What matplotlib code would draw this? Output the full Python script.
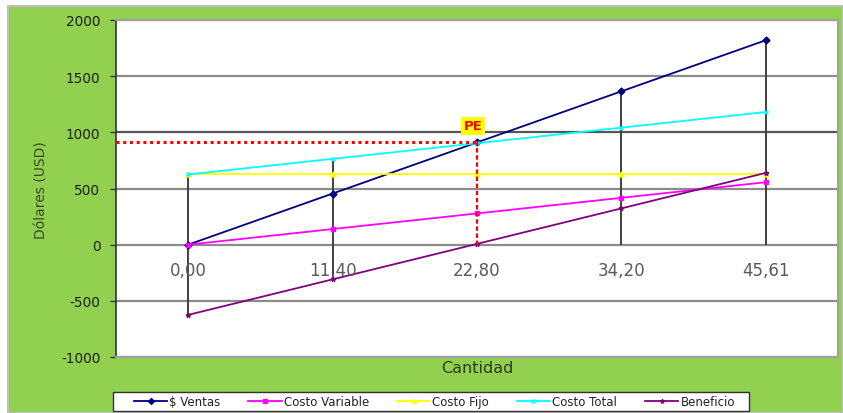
import matplotlib
matplotlib.use("Agg")
import matplotlib.pyplot as plt
import matplotlib.transforms as mtransforms
from matplotlib.patches import Rectangle

plt.rcParams['font.family'] = ['DejaVu Sans']

categories = ["0,00", "11,40", "22,80", "34,20", "45,61"]
ventas = [0, 455, 910, 1365, 1820]
costo_variable = [0, 139, 278, 417, 556]
costo_fijo = [625, 625, 625, 625, 625]
costo_total = [625, 764, 903, 1042, 1181]
beneficio = [-625, -309, 7, 323, 639]
pe_index = 2
pe_value = 917
pe_label_value = 1057
y_ticks = [-1000, -500, 0, 500, 1000, 1500, 2000]

series = [
    ("$ Ventas", ventas, "#000080", "D"),
    ("Costo Variable", costo_variable, "#FF00FF", "s"),
    ("Costo Fijo", costo_fijo, "#FFFF00", "^"),
    ("Costo Total", costo_total, "#00FFFF", "x"),
    ("Beneficio", beneficio, "#800080", "*"),
]

W, H = 843, 414
fig = plt.figure(figsize=(W / 100, H / 100), dpi=100)
fig.patch.set_facecolor("white")
fig.patches.append(Rectangle((8 / W, 0), 1 - 8 / W, 1 - 7 / H, transform=fig.transFigure,
                             facecolor="#92D050", edgecolor="#BFBFBF", linewidth=1.5, zorder=-10))

ax = fig.add_axes([116 / W, 1 - 358 / H, (838 - 116) / W, (358 - 21) / H])
ax.set_facecolor("white")
x = list(range(len(categories)))
ax.set_xlim(-0.5, len(categories) - 0.5)
ax.set_ylim(y_ticks[0], y_ticks[-1])

for t in y_ticks:
    col = "#555555" if t == 1000 else "#8C8C8C"
    ax.axhline(t, color=col, lw=1.6, zorder=1)

# high-low drop lines
all_series = [s[1] for s in series]
for i in x:
    if i == pe_index:
        continue
    vals = [s[i] for s in all_series]
    ax.vlines(i, min(min(vals), 0), max(vals), color="#404040", lw=1.4, zorder=2)

for name, vals, col, mk in series:
    ax.plot(x, vals, color=col, lw=1.3, marker=mk, markersize=3.5,
            markeredgecolor=col, markerfacecolor=col, label=name, zorder=3)

# break-even guides
ax.plot([-0.5, pe_index], [pe_value, pe_value], color="#FF0000", lw=2.2, ls=(0, (1, 1.2)), zorder=4)
ax.plot([pe_index, pe_index], [0, pe_value], color="#FF0000", lw=1.6, ls=(0, (2, 1.2)), zorder=4)
ax.text(pe_index - 0.028, pe_label_value, "PE", color="#FF0000", fontsize=9.5, fontweight="bold",
        ha="center", va="center", zorder=5,
        bbox=dict(boxstyle="square,pad=0.22", facecolor="#FFFF00", edgecolor="none"))

# category labels at the y=0 crossing
trans = mtransforms.offset_copy(ax.transData, fig=fig, y=-11.5, units="points")
for i, lab in zip(x, categories):
    ax.text(i, 0, lab, transform=trans, ha="center", va="top", fontsize=12, color="#5A5A5A")

ax.set_xticks([])
ax.set_yticks(y_ticks)
ax.set_yticklabels([str(t) for t in y_ticks], fontsize=9.8, color="#1E1E1E")
ax.tick_params(axis="y", direction="out", length=4.3, width=1, color="#333333", pad=7)
for side in ["top", "right", "bottom"]:
    ax.spines[side].set_color("#A0A0A0")
    ax.spines[side].set_linewidth(1.5)
ax.spines["left"].set_color("#333333")
ax.spines["left"].set_linewidth(1.2)

fig.text(41.7 / W, 1 - 190 / H, "Dólares (USD)", rotation=90, ha="center", va="center",
         fontsize=10, color="#3A4A2A")
fig.text(477 / W, 1 - 369 / H, "Cantidad", ha="center", va="center", fontsize=11.5, color="#2E3A20")

# legend box
fig.patches.append(Rectangle((113 / W, 2 / H), 636 / W, 19 / H, transform=fig.transFigure,
                             facecolor="white", edgecolor="#333333", linewidth=1, zorder=-5))
leg = fig.legend(loc="center left", bbox_to_anchor=(134 / W, 11.5 / H, 601 / W, 0.001), ncol=5,
                 mode="expand", fontsize=8.5, frameon=False, handlelength=2.8,
                 borderpad=0, handletextpad=0.2, borderaxespad=0)
for h in leg.legend_handles:
    h.set_markersize(3)
for t in leg.get_texts():
    t.set_color("#222222")

fig.savefig("out.png", dpi=100)
